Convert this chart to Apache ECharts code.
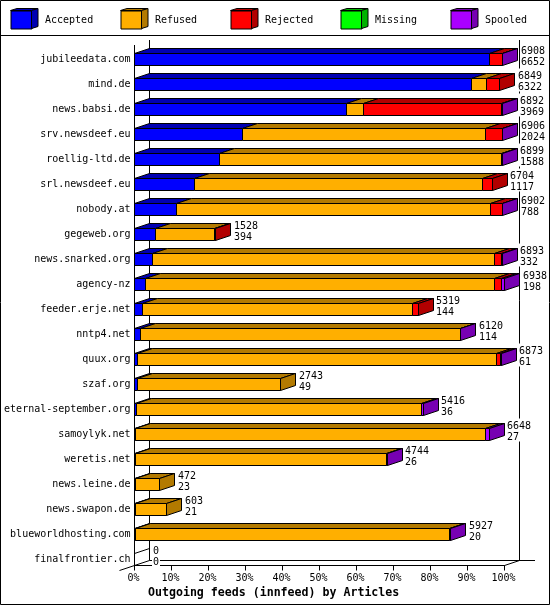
<!DOCTYPE html>
<html><head><meta charset="utf-8">
<style>html,body{margin:0;padding:0;background:#fff}#c{width:550px;height:605px}</style>
<script src="https://cdn.jsdelivr.net/npm/echarts@6/dist/echarts.min.js"></script>
</head><body><div id="c"></div>
<script>
const hosts = ['jubileedata.com','mind.de','news.babsi.de','srv.newsdeef.eu','roellig-ltd.de','srl.newsdeef.eu','nobody.at','gegeweb.org','news.snarked.org','agency-nz','feeder.erje.net','nntp4.net','quux.org','szaf.org','eternal-september.org','samoylyk.net','weretis.net','news.leine.de','news.swapon.de','blueworldhosting.com','finalfrontier.ch'];
const offered  = [6908,6849,6892,6906,6899,6704,6902,1528,6893,6938,5319,6120,6873,2743,5416,6648,4744,472,603,5927,0];
const accepted = [6652,6322,3969,2024,1588,1117,788,394,332,198,144,114,61,49,36,27,26,23,21,20,0];
const refused  = [0,281,321,4554,5297,5404,5884,1115,6422,6556,5072,5990,6730,2694,5349,6564,4690,449,582,5885,0];
const rejected = [245,246,2595,319,0,183,225,19,123,123,103,0,75,0,0,0,0,0,0,0,0];
const missing  = [0,0,0,0,0,0,0,0,0,0,0,0,0,0,0,0,0,0,0,0,0];
const spooled  = [11,0,7,9,14,0,5,0,16,61,0,16,7,0,31,57,28,0,0,22,0];
const seriesNames = ['Accepted','Refused','Rejected','Missing','Spooled'];
const frontColors = ['#0000FF','#FFAF00','#FF0000','#00FF00','#AA00FF'];
const darkColors  = ['#0000B2','#B37A00','#B20000','#00B200','#7700B2'];
const tickStep = 10;

const columns = [accepted,refused,rejected,missing,spooled];
const maxOffered = Math.max(...offered);
const FONT = '"DejaVu Sans Mono", monospace';
const DX = 15, DY = 5;
const snap = v => Math.round(v - 0.5) + 0.5;

function lastIndex(row){ let l=-1; columns.forEach((c,i)=>{ if(c[row]>0) l=i; }); return l; }

function segRender(colIdx){
  return function(params, api){
    const a = api.value(0), b = api.value(1), row = api.value(2);
    if (b <= a) return null;
    const p1 = api.coord([a,row]), p2 = api.coord([b,row]);
    const half = Math.round(api.size([0,1])[1]*0.48/2);
    const yc = snap(p1[1]);
    const x1 = snap(p1[0]), x2 = snap(p2[0]);
    const yt = yc-half, yb = yc+half;
    const line = {stroke:'#000',lineWidth:1};
    const children = [
      {type:'polygon',shape:{points:[[x1,yt],[x2,yt],[x2+DX,yt-DY],[x1+DX,yt-DY]]},style:{fill:darkColors[colIdx],...line}},
      {type:'rect',shape:{x:x1,y:yt,width:x2-x1,height:yb-yt},style:{fill:frontColors[colIdx],...line}}
    ];
    if (api.value(3)) children.push({type:'polygon',shape:{points:[[x2,yt],[x2+DX,yt-DY],[x2+DX,yb-DY],[x2,yb]]},style:{fill:darkColors[colIdx],...line}});
    return {type:'group',children};
  };
}
const series = seriesNames.map((name,ci)=>{
  const data = hosts.map((h,row)=>{
    let s=0; for(let k=0;k<ci;k++) s+=columns[k][row];
    const e=s+columns[ci][row];
    return [s/maxOffered*100,e/maxOffered*100,row,lastIndex(row)===ci?1:0];
  });
  return {name,type:'custom',data,renderItem:segRender(ci),encode:{x:[0,1],y:2},clip:false,silent:true,
          itemStyle:{color:frontColors[ci]},z:3};
});
series.push({name:'totals',type:'custom',z:5,clip:false,silent:true,
  data:hosts.map((h,row)=>[offered[row]/maxOffered*100,row,offered[row],accepted[row]]),
  encode:{x:0,y:1},
  renderItem(params,api){
    const v=api.value(0), row=api.value(1);
    const p=api.coord([v,row]);
    const yc=snap(p[1]);
    const half=Math.round(api.size([0,1])[1]*0.48/2);
    const tx=Math.round(p[0]+18);
    const t1=String(api.value(2)), t2=String(api.value(3));
    const w=Math.max(t1.length,t2.length)*6+2;
    const ch=[];
    if(api.value(2)===0){
      const x=snap(p[0]);
      ch.push({type:'line',shape:{x1:x,y1:yc-half,x2:x+DX,y2:yc-half-DY},style:{stroke:'#000',lineWidth:1}});
    }
    ch.push({type:'rect',shape:{x:tx-1,y:yc-16,width:w,height:23},style:{fill:'#fff'}});
    ch.push({type:'text',style:{x:tx,y:yc-8,text:t1,font:'10px '+FONT,fill:'#000',verticalAlign:'middle'}});
    ch.push({type:'text',style:{x:tx,y:yc+3,text:t2,font:'10px '+FONT,fill:'#000',verticalAlign:'middle'}});
    return {type:'group',children:ch};
  }});

const ln=(x1,y1,x2,y2)=>({type:'line',z:0,silent:true,shape:{x1,y1,x2,y2},style:{stroke:'#000',lineWidth:1}});
const graphics=[
  {type:'rect',z:0,silent:true,shape:{x:0.5,y:0.5,width:549,height:604},style:{fill:'none',stroke:'#000',lineWidth:1}},
  ln(0,35.5,550,35.5),
  ln(134.5,45,134.5,565.5),
  ln(149.5,40,149.5,560.5),
  ln(519.5,40,519.5,560.5),
  ln(149.5,560.5,535,560.5),
  ln(119.5,570.5,149.5,560.5),
  ln(504.5,565.5,519.5,560.5)
];
seriesNames.forEach((n,i)=>{
  const x=31.5+110*i;
  graphics.push({type:'polygon',z:10,silent:true,shape:{points:[[x-21,10.5],[x,10.5],[x+6.5,8.5],[x-14.5,8.5]]},style:{fill:darkColors[i],stroke:'#000',lineWidth:1}});
  graphics.push({type:'polygon',z:10,silent:true,shape:{points:[[x,10.5],[x+6.5,8.5],[x+6.5,26.5],[x,28.5]]},style:{fill:darkColors[i],stroke:'#000',lineWidth:1}});
});

const chart=echarts.init(document.getElementById('c'),null,{renderer:'canvas'});
chart.setOption({
  animation:false,
  backgroundColor:'#fff',
  title:{text:'Outgoing feeds (innfeed) by Articles',left:148,top:587,padding:0,
         textStyle:{fontFamily:FONT,fontSize:11.6,fontWeight:'bold',color:'#000'}},
  legend:seriesNames.map((name,i)=>({left:10.5+110*i,top:10.5,padding:0,itemGap:0,itemWidth:21,itemHeight:18,selectedMode:false,
    data:[{name,icon:'rect',itemStyle:{color:frontColors[i],borderColor:'#000',borderWidth:1}}],
    textStyle:{fontFamily:FONT,fontSize:10,color:'#000',padding:[0,0,0,8]}})),
  grid:{left:134.5,width:370,top:47,height:525,containLabel:false},
  xAxis:{type:'value',min:0,max:100,interval:tickStep,offset:-6.5,
    axisLine:{show:true,lineStyle:{color:'#000',width:1}},
    axisTick:{show:true,length:5,lineStyle:{color:'#000',width:1}},
    splitLine:{show:false},
    axisLabel:{formatter:'{value}%',fontFamily:FONT,fontSize:10,color:'#000',margin:8,padding:[0,2,0,0],hideOverlap:false,showMinLabel:true,showMaxLabel:true}},
  yAxis:{type:'category',data:hosts,inverse:true,
    axisLine:{show:false},axisTick:{show:false},splitLine:{show:false},
    axisLabel:{interval:0,fontFamily:FONT,fontSize:10,color:'#000',margin:4,align:'right',padding:[2,0,0,0]}},
  graphic:{elements:graphics},
  series
});
</script></body></html>
